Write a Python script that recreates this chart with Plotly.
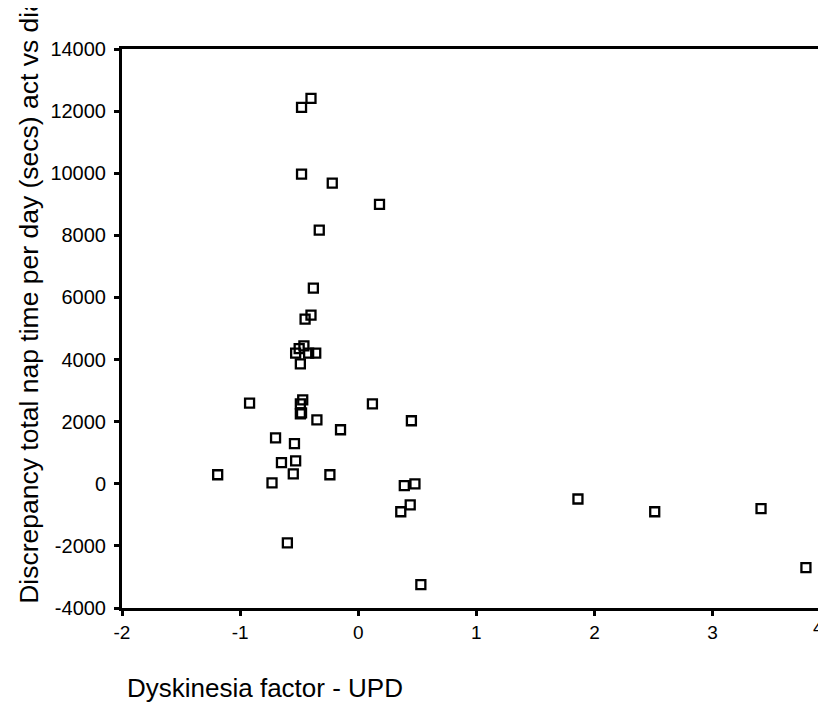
import plotly.graph_objects as go

dysk = [-0.48, -0.40, -0.48, -0.22, 0.18, -0.33, -0.38, -0.40, -0.45,
        -0.53, -0.50, -0.46, -0.42, -0.36, -0.49,
        -0.92, -0.47, -0.49, -0.48, -0.49, 0.12, 0.45, -0.35, -0.15,
        -0.70, -0.54, -0.65, -0.53, -1.19, -0.55, -0.24, -0.73,
        0.39, 0.48, 0.44, 0.36, -0.60, 0.53,
        1.86, 2.51, 3.41, 3.79]
nap = [12120, 12410, 9970, 9680, 9000, 8170, 6300, 5430, 5300,
       4210, 4350, 4440, 4210, 4210, 3860,
       2600, 2700, 2570, 2280, 2250, 2570, 2030, 2060, 1740,
       1480, 1290, 680, 740, 290, 320, 290, 30,
       -60, 0, -680, -900, -1900, -3250,
       -490, -900, -800, -2700]

xticks = [-2, -1, 0, 1, 2, 3]
yticks = [-4000, -2000, 0, 2000, 4000, 6000, 8000, 10000, 12000, 14000]

font_family = "Liberation Sans, Arial, sans-serif"

fig = go.Figure()
fig.add_trace(go.Scatter(
    x=dysk, y=nap, mode="markers",
    marker=dict(symbol="square-open", size=9, color="black",
                line=dict(width=2.3, color="black")),
    showlegend=False, cliponaxis=False,
))

fig.update_layout(
    template="none",
    width=818, height=700,
    margin=dict(l=114, r=0, t=41, b=100, autoexpand=False),
    plot_bgcolor="white", paper_bgcolor="white",
    font=dict(family=font_family, color="black"),
    xaxis=dict(range=[-2, 3.96], tickvals=xticks, ticktext=[str(v) for v in xticks],
               automargin=False,
               showgrid=False, zeroline=False, showline=True, linewidth=3,
               linecolor="black", mirror=True, ticks="outside", ticklen=5,
               tickwidth=3, tickcolor="black",
               tickfont=dict(size=19, family=font_family)),
    yaxis=dict(range=[-4000, 14000], tickvals=yticks,
               ticktext=[str(v) for v in yticks], automargin=False,
               showgrid=False, zeroline=False, showline=True, linewidth=3,
               linecolor="black", ticks="outside", ticklen=5, tickwidth=3,
               tickcolor="black", ticklabelstandoff=4,
               tickfont=dict(size=20, family=font_family)),
    annotations=[
        dict(text="Dyskinesia factor - UPD", xref="paper", yref="paper",
             x=0.004, y=-0.143, xanchor="left", yanchor="middle", showarrow=False,
             font=dict(size=26, family=font_family)),
        dict(text="Discrepancy total nap time per day (secs) act vs diary",
             xref="paper", yref="paper", x=-0.132, y=0.004, xanchor="center",
             yanchor="bottom", textangle=-90, showarrow=False,
             font=dict(size=26.5, family=font_family)),
        dict(text="4", xref="paper", yref="paper", x=1.0, y=0,
             xanchor="right", yanchor="top", yshift=-7, showarrow=False,
             font=dict(size=19, family=font_family)),
    ],
)

fig.write_html("out.html")
